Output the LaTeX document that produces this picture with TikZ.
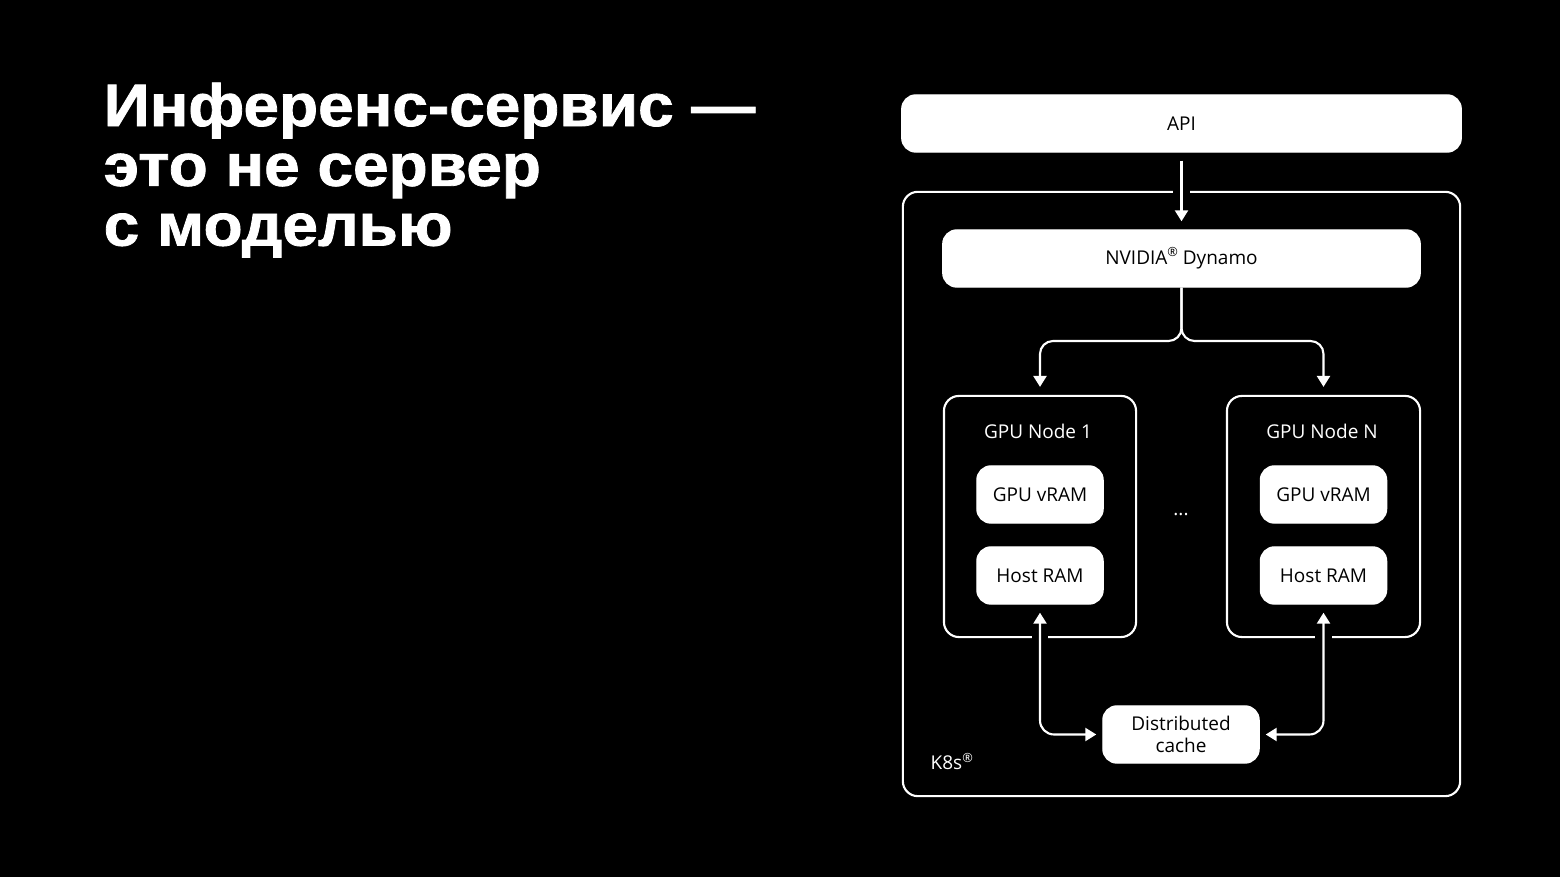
\documentclass[tikz,border=0pt]{standalone}
\usepackage{fontspec}
\setmainfont{Open Sans}
\newfontfamily\titlefont{Liberation Sans}[FakeStretch=1.07, FakeBold=1.3]
\newcommand{\regmark}{\raisebox{0.42em}{\fontsize{3.6pt}{3.6pt}\selectfont ®}}
\usetikzlibrary{arrows.meta,calc}
\begin{document}
\begin{tikzpicture}[x=0.01cm,y=-0.01cm,
 every node/.style={font=\fontsize{5.4pt}{6.3pt}\selectfont},
 wbox/.style={draw=white, fill=white, rounded corners=0.14cm, text=black, inner sep=0pt, align=center},
 obox/.style={draw=white, line width=0.6pt, rounded corners=0.15cm, inner sep=0pt},
 lbl/.style={text=white, inner sep=0pt},
 arr/.style={draw=white, line width=0.6pt, -{Triangle[width=3.7pt,length=3.1pt]}},
 darr/.style={draw=white, line width=0.6pt, {Triangle[width=3.7pt,length=3.1pt]}-{Triangle[width=3.7pt,length=3.1pt]}},
 gap/.style={draw=black, line width=4.6pt},
]
\fill[black] (0,0) rectangle (1560,877);
\useasboundingbox (0,0) rectangle (1560,877);

\node[anchor=north west, align=left, text=white, inner sep=0pt,
  font=\titlefont\bfseries\fontsize{17pt}{17pt}\selectfont] (title) at (103,82)
  {Инференс-сервис —\\это не сервер\\с моделью};

\node[wbox, minimum width=5.59cm, minimum height=0.57cm] (api) at (1181.5,123.5) {API};
\node[obox, minimum width=5.57cm, minimum height=6.04cm] (k8s) at (1181.5,494) {};
\node[wbox, minimum width=4.77cm, minimum height=0.57cm] (dyn) at (1181.5,258.5) {NVIDIA\regmark\ Dynamo};

\node[obox, minimum width=1.92cm, minimum height=2.41cm] (n1) at (1040,516.5) {};
\node[obox, minimum width=1.93cm, minimum height=2.41cm] (nN) at (1323.5,516.5) {};
\node[lbl] (l1) at (1038,431) {GPU Node 1};
\node[lbl] (lN) at (1322,431) {GPU Node N};
\node[wbox, minimum width=1.26cm, minimum height=0.57cm] (v1) at (1040,494.5) {GPU vRAM};
\node[wbox, minimum width=1.26cm, minimum height=0.57cm] (h1) at (1040,575.5) {Host RAM};
\node[wbox, minimum width=1.26cm, minimum height=0.57cm] (vN) at (1323.5,494.5) {GPU vRAM};
\node[wbox, minimum width=1.26cm, minimum height=0.57cm] (hN) at (1323.5,575.5) {Host RAM};
\node[lbl] (dots) at (1181,515) {...};
\node[wbox, minimum width=1.56cm, minimum height=0.57cm, font=\fontsize{5.4pt}{6.3pt}\selectfont] (cache) at (1181,734.5) {Distributed\\cache};
\node[lbl, anchor=base west] (k8sl) at (930,770) {K8s\regmark};

\coordinate (split) at (1181.5,341);

\draw[gap] ($(api.south |- k8s.north)+(0,-6)$) -- ++(0,12);
\draw[arr] ($(api.south)+(0,8)$) -- ($(dyn.north)+(0,-8)$);

\draw[arr, rounded corners=0.13cm] (dyn.south) -- (split) -| ($(n1.north)+(0,-8)$);
\draw[arr, rounded corners=0.13cm] (dyn.south) -- (split) -| ($(nN.north)+(0,-8)$);

\draw[gap] ($(h1.south |- n1.south)+(0,-6)$) -- ++(0,12);
\draw[gap] ($(hN.south |- nN.south)+(0,-6)$) -- ++(0,12);
\draw[darr, rounded corners=0.14cm] ($(h1.south)+(0,8)$) |- ($(cache.west)+(-6,0)$);
\draw[darr, rounded corners=0.14cm] ($(hN.south)+(0,8)$) |- ($(cache.east)+(6,0)$);
\end{tikzpicture}
\end{document}
